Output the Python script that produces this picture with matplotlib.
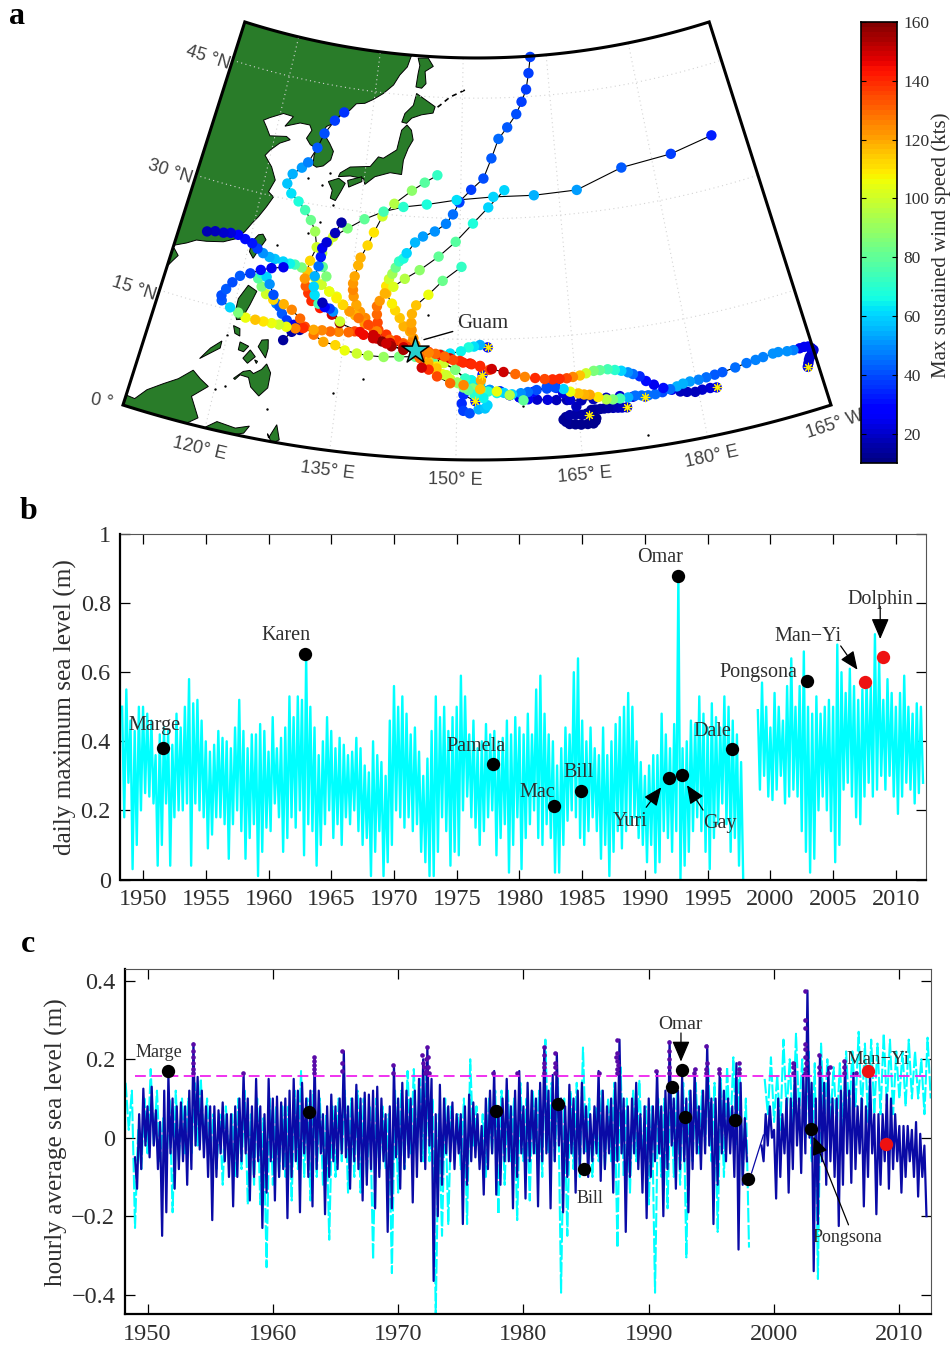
# typhoon tracks past Guam and sea level records
import numpy as np
import matplotlib
matplotlib.use("Agg")
import matplotlib.pyplot as plt
from matplotlib.patches import Polygon

plt.rcParams['font.family'] = ['Liberation Serif', 'DejaVu Serif']
nan = float('nan')

# --- panel a: tracks, east to west, lon / lat / wind (kts)
t1_lon = [193.8, 194.0, 194.2, 194.4, 194.7, 194.9, 195.1, 194.9, 194.6, 194.1, 193.5, 192.7, 191.9, 190.8, 190.1, 188.8, 187.8, 186.6, 185.1, 183.4, 182.4, 181.3,
          180.3, 179.2, 178.3, 177.5, 176.6, 175.8, 174.7, 173.8, 173.1, 172.3, 171.7, 170.9, 170.1, 169.2, 168.2, 167.4, 166.4, 165.6,
          164.7, 163.9, 163.0, 162.1, 161.1, 159.9, 158.6, 157.4, 155.9, 154.4, 152.9, 151.8, 150.7, 149.4, 148.3, 147.1, 146.2, 144.4,
          142.9, 141.3, 140.0, 138.8, 137.5, 136.3, 135.5, 134.2, 133.1, 132.0, 130.9, 129.5, 128.5, 127.3, 126.3, 125.3, 124.2, 123.1,
          121.8, 120.7, 119.5, 118.2, 118.0, 118.4, 119.0, 119.8, 121.1, 122.4, 123.8, 125.4]
t1_lat = [5.4, 5.8, 6.2, 6.5, 6.7, 7.0, 7.2, 7.5, 7.8, 7.9, 7.9, 7.9, 8.0, 8.2, 8.2, 8.1, 8.0, 7.9, 7.7, 7.5, 7.4, 7.3, 7.2, 7.2, 7.1, 6.9, 6.7, 7.0, 7.6, 8.2,
          8.9, 9.3, 9.6, 9.9, 10.1, 10.3, 10.3, 10.3, 10.1, 9.9, 9.8, 9.7, 9.7, 9.7, 9.8, 10.0, 10.2, 10.6, 10.9, 11.3, 11.6, 11.9, 12.1,
          12.4, 12.8, 13.1, 13.2, 13.4, 13.4, 13.7, 14.2, 14.5, 14.8, 15.1, 14.9, 14.8, 14.7, 14.7, 14.6, 14.6, 14.4, 14.4, 14.5, 14.5, 14.5,
          14.5, 14.5, 14.9, 15.3, 15.9, 16.5, 17.4, 18.4, 19.4, 20.0, 20.7, 21.2, 21.6]
t1_wind = [25, 22, 20, 20, 20, 20, 20, 22, 25, 25, 25, 48, 50, 50, 50, 48, 48, 46, 45, 42, 42, 45, 48, 52, 55,
           55, 45, 30, 25, 30, 35, 45, 50, 60, 70, 75, 80, 85, 100, 115, 125, 135, 140, 140, 135,
           140, 125, 130, 150, 150, 140, 140, 140, 135, 130, 130, 125,
           120, 150, 155, 158, 150, 145, 135, 130, 125, 130, 125, 120, 140, 125, 105, 100, 105, 110, 115, 105,
           85, 60, 42, 40, 42, 40, 42, 38, 30, 25, 25]

t2_lon = [182.3, 181.5, 180.5, 179.6, 178.6, 177.8, 176.8, 175.6, 174.7, 173.8, 173.0, 172.2, 171.3, 170.3, 169.4, 168.6, 167.6,
          166.6, 165.9, 165.2, 164.2, 163.4, 162.3, 161.3, 160.0, 158.9, 158.0, 156.9, 155.9, 155.0, 153.9, 153.0, 152.0, 151.0, 150.0,
          149.1, 148.1, 147.2, 146.2, 144.5, 142.4, 140.4, 138.4, 136.9, 135.3, 134.0, 132.4, 131.0, 129.7, 128.9, 127.6, 126.4, 124.9,
          123.8, 123.0, 122.3, 122.6, 123.4, 124.0, 124.8]
t2_lat = [5.8, 5.9, 5.9, 5.8, 6.0, 6.2, 6.6, 6.5, 6.4, 6.4, 6.5, 6.6, 6.5, 6.5, 6.5, 6.6, 7.0, 7.4, 7.5, 7.7, 8.0, 8.4, 8.7, 8.6, 8.5,
          8.3, 8.2, 8.1, 8.3, 8.3, 8.5, 8.7, 8.9, 9.0, 9.6, 10.0, 10.6, 11.0, 11.9, 12.6, 12.5, 12.3, 12.3, 12.4, 12.6, 13.1, 13.3, 14.0,
          14.8, 15.7, 16.6, 17.1, 17.4, 17.9, 18.7, 19.6, 20.3, 20.0, 19.2, 18.0]
t2_wind = [25, 22, 20, 18, 18, 18, 25, 40, 45, 45, 45, 45, 55, 75, 85, 95, 110, 120, 118, 115,
           105, 60, 40, 40, 40, 45, 50, 60, 60, 65, 70, 80, 85, 85, 95, 100, 105, 110, 115,
           80, 85, 90, 95, 100, 105, 112, 120, 128, 135, 130, 125, 118, 112, 100, 85, 78, 70, 60, 50, 40]

t3_lon = [171.0, 170.4, 169.9, 169.3, 168.7, 168.2, 167.7, 167.1, 166.6, 166.0, 166.6, 167.1, 167.0, 166.7, 166.0, 165.2, 164.5, 163.8, 163.4, 163.1, 163.4, 163.9, 164.6, 165.4,
          164.8, 164.1, 163.3, 162.5,
          161.3, 159.6, 157.8, 156.6, 155.4, 154.1, 152.9, 151.8, 151.0, 149.7, 148.2, 146.8, 145.7, 142.8, 140.6, 138.7, 137.5, 136.7,
          136.1, 135.6, 135.4, 135.3, 135.4, 135.7, 135.9, 136.7, 137.4, 138.4, 140.0, 142.5, 144.4, 146.3]
t3_lat = [5.3, 5.35, 5.4, 5.45, 5.5, 5.5, 5.5, 5.5, 5.5, 5.1, 4.7, 4.4, 4.1, 3.8, 3.8, 3.8, 3.9, 4.0, 4.3, 4.6, 4.9, 5.1, 5.1, 5.0,
          6.1, 7.0, 7.9, 8.6, 8.8, 8.3, 7.7, 8.0, 8.5, 8.7, 9.5, 9.9,
          10.1, 11.2, 12.0, 12.5, 12.9, 14.2, 14.6, 15.7, 16.9, 17.6, 18.4, 19.4, 20.2, 21.0, 21.9, 23.3, 24.3, 25.9, 27.6, 29.7, 31.4, 33.2,
          34.3, 35.3]
t3_wind = [20, 19, 18, 17, 15, 15, 14, 14, 13, 14, 13, 12, 12, 12, 12, 12, 12, 12, 13, 13, 13, 15, 15, 15,
           18, 20, 22, 35, 40, 30, 25,
           25, 35, 50, 60, 65, 72, 85, 100, 112, 125,
           130, 135, 130, 125, 122, 120, 122, 125, 122, 120, 118, 118, 112, 110, 100, 95, 88, 78, 72]

t4_lon = [173.4, 171.9, 170.3, 168.6, 167.0, 165.5, 163.7, 162.4, 161.3, 160.0, 158.9, 157.8, 156.6, 155.4, 154.1, 152.9, 151.8,
          151.0, 149.7, 148.2, 146.8, 144.4, 144.1, 143.6, 142.7, 142.1, 141.4, 140.9, 140.0, 139.9, 140.2, 140.6, 141.0, 141.4, 142.0,
          142.4, 143.5, 144.6, 146.3, 147.9, 148.9, 149.8, 149.8, 151.6, 153.5, 154.8, 156.0, 157.5, 159.1, 160.1, 161.0, 161.6, 162.1]
t4_lat = [6.3, 6.5, 6.8, 6.8, 6.8, 6.8, 7.0, 7.1, 7.2, 7.3, 7.4, 7.7, 8.0, 8.5, 8.7, 9.1, 9.9, 10.1, 11.2, 12.0, 12.5, 14.1, 14.9,
          15.7, 16.3, 17.3, 18.2, 19.0, 20.2, 21.1, 22.0, 22.7, 23.5, 24.3, 24.7, 25.4, 26.8, 27.6, 28.3, 29.3, 30.5, 32.0, 32.1, 33.6, 35.0,
          37.5, 39.9, 41.3, 42.9, 44.4, 45.9, 47.9, 49.9]
t4_wind = [25, 22, 20, 18, 18, 17, 17, 18, 22, 20, 25, 25, 30, 40, 50, 60, 65, 72, 85, 105, 120,
           125, 122, 120, 118, 115, 112, 108, 115, 110, 100, 92, 82, 72, 68, 60, 56, 52, 50, 48, 45, 40,
           38, 38, 40, 42, 44, 42, 40, 38, 38, 38, 38]

t5_lon = [153.9, 152.9, 152.1, 151.4, 150.4, 149.0, 147.9, 146.8, 143.9, 143.8, 143.7, 143.7, 144.2, 145.8, 147.7, 150.3]
t5_lat = [14.0, 14.3, 14.1, 14.0, 13.5, 13.2, 13.0, 12.5, 14.3, 15.9, 16.8, 17.9, 19.0, 20.4, 22.2, 24.0]
t5_wind = [30, 55, 62, 68, 65, 62, 70, 80, 125, 122, 120, 118, 115, 105, 82, 72]

t6_lon = [152.3, 150.8, 150.6, 150.8, 151.6, 152.7, 153.5, 153.8, 153.3, 152.2, 151.4, 150.8, 150.0, 148.6, 147.2, 146.2, 145.1,
          143.3, 141.9, 140.5, 139.4, 139.2, 139.0, 138.9, 139.2, 139.8, 140.9, 142.4, 144.4, 147.0, 149.4, 151.9, 154.2, 156.7]
t6_lat = [7.3, 8.1, 7.0, 6.1, 5.8, 6.3, 6.4, 6.8, 7.7, 8.1, 8.7, 9.0, 9.6, 10.5, 11.5, 12.1, 12.5, 13.8, 14.5, 15.1, 15.6, 16.5, 17.5,
          18.5, 19.2, 20.2, 21.1, 22.2, 23.4, 25.2, 27.1, 29.4, 31.4, 33.5]
t6_wind = [30, 35, 35, 38, 40, 55, 58, 60, 65, 70, 80, 85, 90, 100, 108, 112, 125,
           135, 138, 138, 135, 135, 130, 128, 122, 118, 102, 95, 88, 80, 78, 68, 60, 60]

t7_lon = [153.2, 153.0, 154.1, 152.9, 151.6, 150.3, 149.0, 147.7, 146.2, 142.9, 141.1, 139.3, 138.0, 136.6, 135.3, 134.3, 133.3,
          132.2, 131.0, 131.5, 130.8, 130.4, 131.0, 131.6, 133.5, 135.8, 138.5, 141.4, 144.9, 149.4, 155.0, 161.2, 167.8, 175.1, 183.1,
          190.0]
t7_lat = [10.6, 9.9, 11.2, 11.7, 12.0, 12.3, 12.6, 13.0, 13.3, 13.7, 14.1, 14.5, 16.1, 16.8, 17.5, 18.2, 18.9, 19.6, 20.3, 21.4, 22.5,
          24.2, 25.7, 26.4, 27.7, 29.1, 30.3, 31.1, 31.6, 32.3, 32.7, 32.7, 32.9, 34.9, 35.4, 36.4]
t7_wind = [30, 120, 135, 140, 145, 140, 150, 145, 140, 150, 150, 148, 135, 128, 122, 112, 108, 105, 100,
           85, 80, 95, 100, 100, 85, 80, 75, 70, 68, 62, 60, 55, 52, 42, 38, 33]

t8_lon = [158.3, 156.6, 155.0, 152.9, 150.8, 149.1, 147.4, 146.3, 145.4, 144.4, 142.9, 140.6, 138.8, 137.0, 134.2, 133.0, 131.3,
          130.0, 129.4, 128.9, 128.6, 128.9, 129.5, 128.9, 128.0, 126.9, 125.7, 124.4, 123.5, 124.0, 125.2, 126.0, 127.0, 127.7, 129.0,
          130.3]
t8_lat = [7.3, 8.0, 8.5, 8.8, 9.3, 9.5, 10.3, 11.1, 11.3, 13.0, 13.4, 14.0, 14.9, 15.1, 15.9, 16.8, 17.4, 18.1, 19.0, 19.8, 20.7,
          23.0, 24.8, 26.7, 28.0, 29.1, 30.0, 30.8, 31.9, 33.2, 34.2, 35.0, 37.0, 38.9, 40.7, 41.9]
t8_wind = [80, 95, 105, 115, 125, 130, 135, 140, 150,
           130, 155, 150, 150, 145, 158, 150, 142, 140, 138, 132, 122, 112, 100, 92, 82, 75, 68, 62, 58, 55, 52, 48, 42, 40, 38, 36]

t9_lon = [147.3, 146.2, 145.1, 142.8, 141.0, 139.2, 137.5, 136.1, 135.3, 134.3, 133.3, 132.2, 131.0, 130.0, 128.8, 127.9, 126.9,
          126.2, 125.2, 124.0, 123.2, 122.2, 121.3, 120.4, 119.3, 118.2, 117.1, 116.1, 114.9, 113.8]
t9_lat = [11.3, 11.9, 12.5, 14.0, 14.5, 15.4, 16.2, 17.1, 17.5, 18.2, 19.1, 19.6, 20.3, 21.0, 21.6, 22.0, 22.2, 22.2, 22.3, 22.4,
          22.5, 22.8, 23.2, 23.7, 24.0, 24.3, 24.3, 24.1, 24.0, 23.7]
t9_wind = [115, 120, 130, 135, 130, 125, 122, 118, 120, 115, 105, 100, 100, 105, 115, 85, 75, 65, 60, 58, 55, 50, 38, 32, 30, 28, 22, 20, 18, 17]

t10_lon = [134.2, 133.1, 132.6, 131.9, 131.5]
t10_lat = [16.1, 17.2, 17.5, 17.6, 18.1]
t10_wind = [100, 50, 38, 28, 18]
t11_lon = [131.0, 130.3, 130.0, 129.9, 130.2, 130.3, 130.3, 130.8, 131.8, 132.5]
t11_lat = [17.9, 18.9, 19.9, 21.2, 22.5, 23.7, 24.8, 25.6, 26.9, 28.3]
t11_wind = [75, 62, 60, 55, 45, 32, 25, 22, 18, 15]
t12_lon = [125.4, 125.9, 126.4, 127.2, 128.2, 129.0, 129.1, 128.1, 127.2]
t12_lat = [17.0, 16.7, 15.9, 15.2, 14.8, 14.9, 14.3, 13.9, 12.7]
t12_wind = [48, 42, 42, 38, 25, 20, 15, 15, 14]

tracks = [(t4_lon, t4_lat, t4_wind), (t3_lon, t3_lat, t3_wind), (t12_lon, t12_lat, t12_wind), (t5_lon, t5_lat, t5_wind),
          (t2_lon, t2_lat, t2_wind), (t6_lon, t6_lat, t6_wind), (t9_lon, t9_lat, t9_wind), (t7_lon, t7_lat, t7_wind),
          (t1_lon, t1_lat, t1_wind), (t8_lon, t8_lat, t8_wind), (t11_lon, t11_lat, t11_wind), (t10_lon, t10_lat, t10_wind)]

guam_lon, guam_lat = 144.4, 13.4
origin_lon = [153.9, 153.2, 152.3, 166.2, 171.0, 173.4, 182.3, 193.8]
origin_lat = [14.0, 10.6, 7.3, 4.9, 5.3, 6.3, 5.8, 5.4]

# coast outlines, lon / lat
main_lon = [140.6, 140.1, 138.9, 138.0, 136.4, 134.8, 133.5, 132.1, 131.2, 129.7, 128.8, 127.8, 127.5, 127.8, 128.8, 129.6, 129.4,
            128.4, 127.4, 126.8, 126.7, 126.9, 125.8, 125.0, 125.6, 125.1, 123.5, 121.2, 122.2, 120.5, 118.5, 117.6, 118.4, 119.2, 121.8,
            122.5, 121.0, 119.8, 119.2, 120.6, 121.6, 121.0, 121.9, 121.2, 120.4, 119.7, 119.0, 118.1, 116.4, 114.1, 112.7, 111.5, 110.0,
            105.0, 100.0, 100.0, 145.0, 141.0]
main_lat = [49.8, 48.5, 47.4, 46.1, 44.9, 44.0, 43.4, 43.2, 42.3, 41.4, 40.3, 39.8, 39.1, 38.7, 37.8, 36.9, 35.8, 34.9, 34.6, 34.8,
            36.0, 36.9, 37.2, 37.9, 39.0, 39.6, 39.6, 38.8, 40.2, 40.3, 39.4, 38.9, 38.1, 37.2, 37.6, 37.3, 36.6, 35.5, 34.7, 33.5, 32.0, 30.4,
            29.9, 28.5, 27.1, 26.1, 24.9, 23.8, 23.0, 22.5, 22.3, 21.6, 20.9,
            20.0, 30.0, 55.0, 55.0, 50.5]
islands = [
    ([110.1, 110.9, 110.4, 110.0, 108.0], [20.5, 19.8, 19.0, 18.3, 19.0]),  # Hainan
    ([121.6, 122.2, 121.6, 121.0, 120.3, 120.3, 121.0], [25.1, 24.5, 23.3, 21.9, 22.6, 23.9, 24.9]),  # Taiwan
    ([129.6, 131.1, 132.2, 131.7, 131.1, 130.3, 130.4], [33.1, 33.7, 33.2, 32.1, 30.9, 31.1, 32.1]),  # Kyushu
    ([140.9, 141.7, 142.1, 141.4, 140.8, 140.7, 138.9, 136.6, 135.2, 134.9, 132.8, 131.0, 131.2, 132.6, 135.7, 136.8, 137.6, 139.6, 140.1],
     [41.3, 40.7, 39.5, 38.4, 36.9, 35.1, 35.2, 34.5, 33.4, 34.1, 34.2, 33.9, 34.4, 35.3, 35.7, 37.0, 36.9, 38.1, 40.6]),  # Honshu
    ([132.5, 134.6, 134.7, 132.8], [33.6, 34.3, 33.7, 32.8]),  # Shikoku
    ([142.1, 145.4, 145.1, 143.2, 141.6, 140.8, 140.0, 140.4, 141.7], [45.3, 43.8, 43.0, 42.7, 42.2, 41.5, 41.6, 42.7, 43.8]),  # Hokkaido
    ([141.9, 143.7, 144.7, 143.3, 143.6, 142.9, 141.9, 142.1, 142.3], [49.7, 49.8, 48.8, 48.1, 46.6, 46.0, 46.1, 47.8, 48.8]),  # Sakhalin
    ([121.2, 122.5, 122.0, 121.6, 122.4, 120.7, 120.3, 120.3], [18.5, 18.0, 16.2, 15.0, 14.5, 14.0, 14.9, 16.6]),  # Luzon
    ([122.0, 123.0, 123.8, 124.3, 125.2, 125.7, 126.4, 126.4, 125.5, 124.3, 123.8, 122.7, 122.2],
     [6.8, 7.9, 8.2, 7.9, 8.6, 9.4, 8.4, 6.5, 5.3, 6.2, 7.3, 7.4, 6.7]),  # Mindanao
    ([119.5, 119.5, 117.3, 118.3], [11.0, 10.1, 8.2, 9.8]),  # Palawan
    ([124.5, 125.3, 125.5, 125.4, 124.2], [12.2, 12.4, 11.3, 10.1, 11.3]),  # Samar, Leyte
    ([121.8, 123.0, 122.5, 121.8], [11.4, 11.1, 10.3, 10.4]),  # Panay
    ([122.6, 123.3, 124.1, 123.3], [9.5, 10.7, 10.0, 9.0]),  # Negros
    ([124.1, 124.5, 124.4], [9.6, 9.5, 9.2]),  # Bohol
    ([120.5, 121.4, 121.6, 120.9], [13.2, 13.0, 12.1, 12.3]),  # Mindoro
    ([109.9, 110.0, 111.0, 112.1, 113.8, 115.4, 116.9, 118.0, 119.2, 117.5, 118.9, 117.6, 117.0, 108.0],
     [-0.2, 1.3, 1.2, 2.7, 4.0, 5.1, 6.6, 5.8, 5.1, 3.4, 1.0, -0.1, -3.0, -3.0]),  # Borneo
    ([120.0, 121.2, 123.5, 125.1, 124.6, 122.7, 119.8], [0.1, 1.1, 0.8, 1.4, 0.4, -0.3, -0.2]),  # Sulawesi
    ([127.6, 128.3, 128.9, 128.1, 127.4], [0.4, 2.2, 0.4, -0.2, 0.9]),  # Halmahera
]
kuril_lon = [150.4, 149.3, 147.9, 146.2, 145.7]
kuril_lat = [46.0, 45.6, 45.1, 44.0, 43.7]
islet_lon = [123.9, 128.7, 120.0, 120.1, 121.2, 126.8, 134.5, 138.0, 145.9, 158.2, 173.0, 126.4, 129.6, 130.9, 129.4, 127.9]
islet_lat = [24.1, 32.5, 11.9, 5.0, 5.7, 3.9, 7.2, 9.3, 17.9, 6.6, 1.5, 33.1, 34.2, 30.3, 28.0, 26.4]

cbar_ticks = [20, 40, 60, 80, 100, 120, 140, 160]

# --- panel b: daily maximum sea level, peak and trough of each third of a year, from 1948.33
b_hi = [.50, .55,
        .46, .43, .50, .50, .48, .46, .36, .42, .44, .43, .39, .48, .44, .50, .58, .51, .52, .46, .40, .37, .39, .43, .41, .40, .38, .44, .52,
        .43, .38, .42, .42, .45, .43, .37, .47, .38, .41, .44, .53, .47, .53, .52, .65, .50, .44, .36, .40, .47, .43, .38, .41, .39, .36, .37,
        .41, .38, .33, .31, .40, .36, .34, .30, .46, .56, .50, .53, .48, .42, .44, .37, .30, .35, .43, .53, .47, .50, .43, .47, .50, .59, .53,
        .42, .46, .38, .40, .45, .42, .43, .40, .41, .46, .42, .47, .44, .42, .48, .42, .55, .59, .48, .42, .40, .33, .38, .44, .42, .60, .64,
        .46, .40, .44, .38, .36, .44, .36, .40, .45, .47, .50, .54, .50, .40, .34, .30, .33, .36, .36, .48, .42, .38, .45, .88, .38, .40, .46,
        .45, .53, .48, .44, .51, .47, .44, .53, .50, .46, .42, .34, nan, nan, nan, .49, .57, .50, .44, .54, .50, .46, .56, .64, .50, .56, .66,
        .50, .48, .53, .48, .50, .52, .50, .68, .60, .54, .61, .56, .52, .55, .58, .56, .71, .64, .52, .58, .54, .50, .54, .59, .50, .48, .51,
        .50]
b_lo = [.18, .28,
        .03, .10, .20, .25, .24, .22, .04, .10, .22, .04, .18, .20, .20, .22, .04, .22, .20, .18, .09, .13, .18, .18, .16, .06, .16, .20, .14,
        .06, .12, .16, .01, .08, .15, .14, .22, .18, .08, .12, .18, .15, .20, .07, .16, .14, .04, .10, .16, .20, .12, .16, .10, .18, .16, .20,
        .14, .10, .12, .01, .08, .14, .01, .05, .10, .20, .18, .15, .18, .14, .16, .08, .05, .01, .01, .08, .18, .14, .04, .08, .07, .20, .24,
        .18, .15, .10, .14, .18, .20, .07, .12, .16, .02, .10, .18, .03, .12, .16, .20, .12, .10, .16, .12, .02, .02, .10, .17, .20, .18, .12,
        .10, .14, .18, .14, .06, .10, .01, .08, .14, .09, .14, .16, .18, .12, .10, .05, .10, .02, .05, .14, .12, .08, .14, .00, .04, .08, .14,
        .18, .14, .08, .03, .12, .16, .22, .16, .08, .12, .04, .00, nan, nan, nan, .26, .30, .24, .23, .26, .30, .22, .24, .26, .24, .14, .08,
        .02, .06, .20, .24, .20, .14, .05, .10, .26, .28, .24, .18, .16, .24, .28, .24, .26, .30, .26, .30, .24, .19, .24, .28, .26, .22, .25,
        .28]

b_storm_year = [1951.6, 1962.87, 1977.85, 1982.77, 1984.87, 1991.9, 1992.65, 1992.93, 1996.9, 2002.95]
b_storm_level = [.381, .653, .334, .213, .257, .295, .879, .303, .378, .575]
b_red_year = [2007.5, 2008.95]
b_red_level = [.571, .644]

# --- panel c: hourly sea level, blue series by thirds of a year from 1948.33, cyan series by half years from 1948.25
c_hi = [nan, nan,
        -.05, .06, .125, .08, .13, .07, .04, .12, .16, .10, .08, .09, .08, .12, .24, .155, .12, .08, .08, .08, .07, .09, .06, .06, .08, .10, .165,
        .10, .08, .15, .08, .06, .15, .10, .105, .09, .10, .12, .15, .12, .14, .10, .12, .205, .12, .06, .08, .11, .08, .10, .22, .08, .10, .135,
        .10, .115, .11, .12, .13, .10, .06, .08, .185, .10, .14, .12, .10, .12, .15, .20, .23, .15, .06, .135, .10, .08, .09, .06, .06, .08, .11,
        .09, .06, .03, .10, .12, .17, .08, .10, .15, .08, .12, .17, .08, .14, .12, .10, .14, .23, .12, .16, .215, .10, .08, .135, .10, .12, .14,
        .08, .06, .08, .17, .12, .08, .10, .14, .25, .10, .08, .10, .14, .06, .08, .10, .08, .17, .08, .12, .245, .10, .12, .155, .10, .12, .175,
        .08, .12, .235, .10, .10, .175, .12, .10, .08, .19, .14, .05, nan, nan, nan, -.02, .06, .08, .02, .10, .06, .10, .10, .19, .10, .16, .375,
        .14, .10, .21, .14, .18, .10, .10, .12, .195, .12, .165, .08, .10, .08, .155, .06, .06, .06, .11, .10, .06, .03, .03, .03, .02, .04, .01,
        -.02]
c_lo = [nan, nan,
        -.13, -.08, -.02, -.05, -.02, -.08, -.25, -.19, -.04, -.13, -.08, -.06, -.12, -.08, -.02, -.03, -.05, -.10, -.21, -.10, -.04, -.06, -.10, -.175,
        -.10, -.06, -.04, -.16, -.10, -.06, -.23, -.14, -.06, -.16, -.10, -.08, -.205, -.10, -.06, -.19, -.04, -.10, -.175, -.08, -.04, -.195, -.10, -.06,
        -.08, -.04, -.05, -.13, -.06, -.08, -.16, -.12, -.08, -.18, -.10, -.06, -.24, -.18, -.05, -.13, -.08, -.05, -.165, -.10, -.06, -.08, -.02, -.365,
        -.20, -.12, -.04, -.06, -.08, -.04, -.22, -.12, -.06, -.05, -.08, -.145, -.08, -.04, -.145, -.12, -.06, -.06, -.18, -.10, -.04, -.155, -.06, -.04,
        -.175, -.06, -.04, -.18, -.06, -.02, -.19, -.10, -.04, -.14, -.08, -.04, -.10, -.06, -.04, -.11, -.08, -.04, -.14, -.06, -.04, -.24, -.10, -.04,
        -.08, -.14, -.205, -.10, -.06, -.04, -.20, -.08, -.02, -.13, -.08, -.06, -.19, -.08, -.04, -.08, -.04, -.02, -.22, -.12, -.04, -.06, -.04, -.10,
        -.285, -.12, -.06, nan, nan, nan, -.06, -.02, .0, -.155, -.10, -.04, -.14, -.08, -.02, -.09, -.04, .0, -.34, -.22, -.06, -.12, -.06, -.10,
        -.225, -.12, -.04, -.115, -.08, -.04, -.175, -.10, -.04, -.195, -.12, -.06, -.13, -.08, -.06, -.14, -.10, -.06, -.10, -.15, -.10,
        -.2]
c_link_year = [1998.2, 1999.15]
c_link_level = [-.09, .007]

cy_hi = [.14, .12, .02, .10, .175, .12, .05, .10, .12, .10, .10, .14, .15, .10, .06, .06, .08, .06, .10, .12, .06, .10, .05, .10, .08, .08,
         .08, .12, .17, .10, .12, .10, .06, .08, .10, .12, .10, .12, .10, .08, .10, .08, .06, .12, .12, .17, .175, .15, .18, .10, .06, .10,
         .08, .06, .10, .20, .08, .06, .10, .12, .12, .12, .10, .14, .10, .12, .12, .25, .14, .15, .10, .12, .14, .23, .10, .08, .12, .10,
         .14, .18, .10, .12, .145, .08, .08, .10, .10, .14, .12, .14, .12, .14, .12, .18, .14, .15, .18, .205, .18, .10, nan, nan, .15, .205,
         .16, .25, .20, .265, .20, .22, .19, .24, .20, .18, .19, .22, .22, .27, .24, .25, .24, .265, .25, .22, .22, .25, .22, .20, .255]
cy_lo = [.02, -.23, -.08, -.04, -.02, -.06, -.08, -.19, -.06, -.04, -.04, -.02, -.02, -.04, -.08, -.12, -.06, -.10, -.08, -.17, -.12, -.17, -.33, -.12, -.10, -.10,
         -.16, -.08, -.10, -.16, -.10, -.12, -.26, -.10, -.06, -.14, -.10, -.14, -.10, -.31, -.08, -.08, -.345, -.14, -.08, -.04, -.04, -.06, -.06, -.45, -.25, -.22,
         -.04, -.08, -.22, -.02, -.06, -.10, -.04, -.195, -.12, -.06, -.21, -.06, -.16, -.04, -.10, -.04, -.06, -.395, -.25, -.08, -.10, -.04, -.10, -.06, -.08, -.06,
         -.28, -.10, -.14, -.06, -.06, -.17, -.395, -.10, -.18, -.10, -.12, -.305, -.06, -.04, -.02, -.06, -.24, -.10, .0, -.02, -.10, -.28, nan, nan, .06, .04,
         .02, .06, .02, .06, .0, -.06, -.36, .02, .04, .02, .02, .06, .08, .06, .04, .06, .06, .08, .06, .10, .08, .10, .10, .06, .10]

c_peak_year = [1953.6, 1953.6, 1953.6, 1953.6, 1953.6, 1953.6, 1957.6, 1963.3, 1963.3, 1963.3, 1963.3, 1963.3, 1965.5, 1965.5, 1965.5, 1969.6, 1969.6,
               1971.9, 1972.0, 1972.1, 1972.2, 1972.3, 1972.35, 1972.4, 1972.15, 1972.25, 1972.45, 1977.6, 1979.5,
               1981.6, 1981.6, 1981.6, 1981.6, 1981.6, 1982.5, 1982.5, 1982.5, 1982.5, 1986.0,
               1987.5, 1987.45, 1987.55, 1987.5, 1987.4, 1987.5, 1987.5, 1990.6, 1991.6, 1991.6, 1991.6, 1991.6, 1991.6, 1993.6, 1993.7,
               1994.6, 1994.55, 1994.65, 1994.6, 1995.6, 1995.6, 1997.2, 1997.2, 1997.2, 2001.5, 2001.5, 2001.5,
               2002.5, 2002.45, 2002.55, 2002.5, 2002.5, 2002.5, 2002.5, 2002.5, 2002.5, 2003.6, 2003.6, 2003.6, 2004.3, 2004.45,
               2005.6, 2005.6, 2005.6, 2006.5]
c_peak_level = [.165, .175, .19, .205, .22, .24, .165, .165, .175, .185, .195, .205, .17, .19, .22, .165, .185,
                .21, .19, .18, .20, .23, .205, .18, .165, .17, .165, .165, .165,
                .165, .18, .19, .21, .23, .165, .18, .19, .215, .165,
                .165, .175, .185, .195, .205, .215, .25, .17, .165, .18, .20, .22, .245, .165, .175,
                .165, .175, .19, .235, .175, .165, .165, .175, .19, .165, .18, .19,
                .165, .175, .19, .205, .225, .24, .28, .30, .375, .165, .18, .21, .165, .18,
                .165, .18, .195, .165]
threshold = .157

c_storm_year = [1951.6, 1962.85, 1977.8, 1982.75, 1984.85, 1991.85, 1992.63, 1992.9, 1996.85, 1997.9, 2002.95]
c_storm_level = [.171, .066, .068, .087, -.08, .129, .172, .053, .045, -.104, .022]
c_red_year = [2007.5, 2008.95]
c_red_level = [.169, -.015]

W, H = 951.0, 1347.0
fig = plt.figure(figsize=(W / 100, H / 100), dpi=100)
TXT = '#2e2e2e'


def ax_px(l, t, r, b):
    return fig.add_axes([l / W, 1 - b / H, (r - l) / W, (b - t) / H])


# conic map: radius falls with latitude, angle grows with longitude
R0, LON0, CONE = 145.27, 152.5, 0.4142


def proj(lon, lat):
    r = R0 - np.asarray(lat, float)
    a = np.radians((np.asarray(lon, float) - LON0) * CONE)
    return r * np.sin(a), -r * np.cos(a)


def zigzag(t, dt, hi, lo):
    x = np.column_stack((t, t + dt / 2)).ravel()
    y = np.column_stack((hi, lo)).ravel()
    return x, y


# ---------- panel a
ax = ax_px(60, 0, 860, 495)
ax.set_xlim((60 - 477) / 8.04, (860 - 477) / 8.04)
ax.set_ylim(-(495 + 708) / 8.04, -708 / 8.04)
ax.axis('off')

W_LON, E_LON, S_LAT, N_LAT = 109.9, 195.1, 0.0, 50.0
edge_lon = np.r_[np.full(2, W_LON), np.linspace(W_LON, E_LON, 90), np.full(2, E_LON), np.linspace(E_LON, W_LON, 90)]
edge_lat = np.r_[S_LAT, N_LAT, np.full(90, N_LAT), N_LAT, S_LAT, np.full(90, S_LAT)]
fx, fy = proj(edge_lon, edge_lat)
frame = Polygon(np.column_stack((fx, fy)), closed=True, fill=False, ec='k', lw=2.2, zorder=5)
clip = Polygon(np.column_stack((fx, fy)), closed=True, transform=ax.transData)

GREEN = '#297c29'
for lon, lat in [(main_lon, main_lat)] + islands:
    px, py = proj(lon, lat)
    p = Polygon(np.column_stack((px, py)), closed=True, fc=GREEN, ec='k', lw=0.7, zorder=1)
    ax.add_patch(p)
    p.set_clip_path(clip)
kx, ky = proj(kuril_lon, kuril_lat)
ax.plot(kx, ky, color='k', lw=1.2, ls=(0, (3, 2.5)), zorder=1)
ix, iy = proj(islet_lon, islet_lat)
ax.scatter(ix, iy, s=3, color='k', lw=0, zorder=1)

# graticule
for g_lat in [15, 30, 45]:
    gx, gy = proj(np.linspace(W_LON, E_LON, 80), np.full(80, g_lat))
    ax.plot(gx, gy, color='#d4d4d4', lw=0.8, ls=(0, (1, 3)), zorder=2)
for g_lon in [120, 135, 150, 165, 180]:
    gx, gy = proj(np.full(60, g_lon), np.linspace(S_LAT, N_LAT, 60))
    ax.plot(gx, gy, color='#d4d4d4', lw=0.8, ls=(0, (1, 3)), zorder=2)
ax.add_patch(frame)

for lon, lat, wind in tracks:
    px, py = proj(lon, lat)
    ax.plot(px, py, color='k', lw=0.8, zorder=3)
    ax.scatter(px, py, c=wind, cmap='jet', vmin=10, vmax=160, s=56, lw=0, zorder=4, clip_on=False)

ox, oy = proj(origin_lon, origin_lat)
ax.scatter(ox, oy, marker=(8, 2, 0), s=38, color='#ffee00', lw=0.8, zorder=4.5)
gx, gy = proj(guam_lon, guam_lat)
ax.scatter(gx, gy, marker='*', s=420, fc='#25d0cc', ec='k', lw=1.1, zorder=6)
ax.annotate('Guam', xy=proj(145.5, 14.8), xytext=proj(149.8, 17.0), fontsize=15, color=TXT, va='center',
            arrowprops=dict(arrowstyle='-', color='k', lw=1.0, shrinkA=1, shrinkB=0), zorder=6)

SANS = ['Liberation Sans', 'DejaVu Sans']
for label, lon, lat, rot in [('45 °N', 105.7, 44.3, -18), ('30 °N', 106.1, 29.4, -18), ('15 °N', 106.6, 14.2, -18), ('0 °', 107.4, -0.45, -10),
                             ('120° E', 120.0, -2.7, -13), ('135° E', 135.1, -2.5, -7), ('150° E', 150.0, -2.5, -1),
                             ('165° E', 165.1, -2.5, 5), ('180° E', 180.0, -2.5, 12), ('165° W', 194.8, -2.5, 18)]:
    tx, ty = proj(lon, lat)
    ax.text(tx, ty, label, family=SANS, fontsize=13, color='#404040', rotation=rot, ha='center', va='center',
            rotation_mode='anchor', clip_on=False)

# colour bar
cax = ax_px(860.7, 22, 896.7, 463)
levels = np.linspace(10, 160, 91)
cax.pcolormesh([0, 1], levels, ((levels[:-1] + levels[1:]) / 2).reshape(-1, 1), cmap='jet', vmin=10, vmax=160)
cax.set_xticks([])
cax.set_yticks(cbar_ticks)
cax.yaxis.tick_right()
cax.tick_params(axis='y', direction='in', length=3.5, width=0.8, labelsize=12.5, labelcolor=TXT, pad=5,
                left=True, right=True)
cax.set_ylim(10, 160)
for s in cax.spines.values():
    s.set_linewidth(1.2)
fig.text(941 / W, 1 - 245 / H, 'Max sustained wind speed (kts)', rotation=90, ha='center', va='center', fontsize=15, color=TXT)

# ---------- shared styling for the two time series panels


def style(a, xt, yt, ylab, label_x):
    a.set_xticks(xt)
    a.set_yticks(yt)
    a.tick_params(direction='in', length=7, width=0.9, top=True, right=True, labelsize=17.5, labelcolor=TXT, pad=7)
    for side in ('left', 'bottom'):
        a.spines[side].set_linewidth(1.6)
    for side in ('top', 'right'):
        a.spines[side].set_color('#555555')
    a.set_ylabel(ylab, fontsize=18.2, color=TXT)
    a.yaxis.set_label_coords(label_x, 0.5)


BLACK_DOT = dict(s=92, color='k', lw=0, zorder=6, clip_on=False)
RED_DOT = dict(s=92, color='#ee1111', lw=0, zorder=6, clip_on=False)


def arrow(a, tail, tip, scale=15):
    a.annotate('', xy=tip, xytext=tail, zorder=7,
               arrowprops=dict(arrowstyle='-|>,head_length=0.75,head_width=0.32', mutation_scale=scale, color='k', lw=0.9,
                               shrinkA=0, shrinkB=0))


# ---------- panel b
axb = ax_px(120.5, 534, 926, 879.5)
bt = 1948.33 + np.arange(len(b_hi)) / 3
bx, by = zigzag(bt, 1 / 3, b_hi, b_lo)
axb.plot(bx, by, color='#00ffff', lw=1.7, zorder=2)
axb.scatter(b_storm_year, b_storm_level, **BLACK_DOT)
axb.scatter(b_red_year, b_red_level, **RED_DOT)
axb.set_xlim(1948.2, 2012.4)
axb.set_ylim(0, 1)
style(axb, np.arange(1950, 2011, 5), [0, .2, .4, .6, .8, 1], 'daily maximum sea level (m)', -0.054)
axb.set_yticklabels(['0', '0.2', '0.4', '0.6', '0.8', '1'])
for label, xv, yv in [('Marge', 1948.8, .433), ('Karen', 1959.4, .692), ('Pamela', 1974.2, .373), ('Mac', 1980.0, .24),
                      ('Bill', 1983.5, .296), ('Yuri', 1987.45, .155), ('Gay', 1994.6, .15), ('Dale', 1993.9, .415),
                      ('Omar', 1989.4, .918), ('Pongsona', 1995.9, .585), ('Man\u2212Yi', 2000.35, .689), ('Dolphin', 2006.1, .798)]:
    axb.text(xv, yv, label, fontsize=14.5, color=TXT, va='baseline', zorder=8)
arrow(axb, (1990.1, .209), (1991.3, .267))
arrow(axb, (1994.63, .201), (1993.35, .273))
arrow(axb, (2005.6, .676), (2006.94, .607))
arrow(axb, (2008.75, .79), (2008.75, .696), scale=17)

# ---------- panel c
axc = ax_px(125, 969, 930.7, 1314.3)
cyt = 1948.25 + np.arange(len(cy_hi)) / 2
cx, cy = zigzag(cyt, 1 / 2, cy_hi, cy_lo)
axc.plot(cx, cy, color='#00ffff', lw=1.5, ls=(0, (7, 1.2)), zorder=2)
ct = 1948.33 + np.arange(len(c_hi)) / 3
dx, dy = zigzag(ct, 1 / 3, c_hi, c_lo)
axc.plot(dx, dy, color='#0a0aa6', lw=1.6, zorder=3)
axc.plot(c_link_year, c_link_level, color='#0a0aa6', lw=0.9, zorder=3)
axc.scatter(c_peak_year, c_peak_level, s=11, color='#5a0aa8', lw=0, zorder=4)
axc.plot([1949.0, 2012.2], [threshold, threshold], color='#ee22ee', lw=1.3, ls=(0, (6, 3)), zorder=5)
axc.scatter(c_storm_year, c_storm_level, **BLACK_DOT)
axc.scatter(c_red_year, c_red_level, **RED_DOT)
axc.set_xlim(1948.2, 2012.5)
axc.set_ylim(-.45, .43)
style(axc, np.arange(1950, 2011, 10), [-.4, -.2, 0, .2, .4], 'hourly average sea level (m)', -0.0707)
axc.set_yticklabels(['\u22120.4', '\u22120.2', '0', '0.2', '0.4'])
for label, xv, yv, fs in [('Marge', 1949.07, .206, 13), ('Omar', 1990.76, .278, 14), ('Bill', 1984.2, -.167, 13),
                          ('Pongsona', 2003.1, -.267, 13), ('Man\u2212Yi', 2005.75, .189, 13.5)]:
    axc.text(xv, yv, label, fontsize=fs, color=TXT, va='baseline', zorder=8)
arrow(axc, (1992.57, .267), (1992.57, .194), scale=17)
arrow(axc, (2005.94, -.222), (2003.14, .003))

# panel letters
for letter, px_x, px_y in [('a', 17, 16), ('b', 29, 511), ('c', 28, 944)]:
    fig.text(px_x / W, 1 - px_y / H, letter, fontsize=23, fontweight='bold', color='k', ha='center', va='center')

fig.savefig('out.png', dpi=100)
